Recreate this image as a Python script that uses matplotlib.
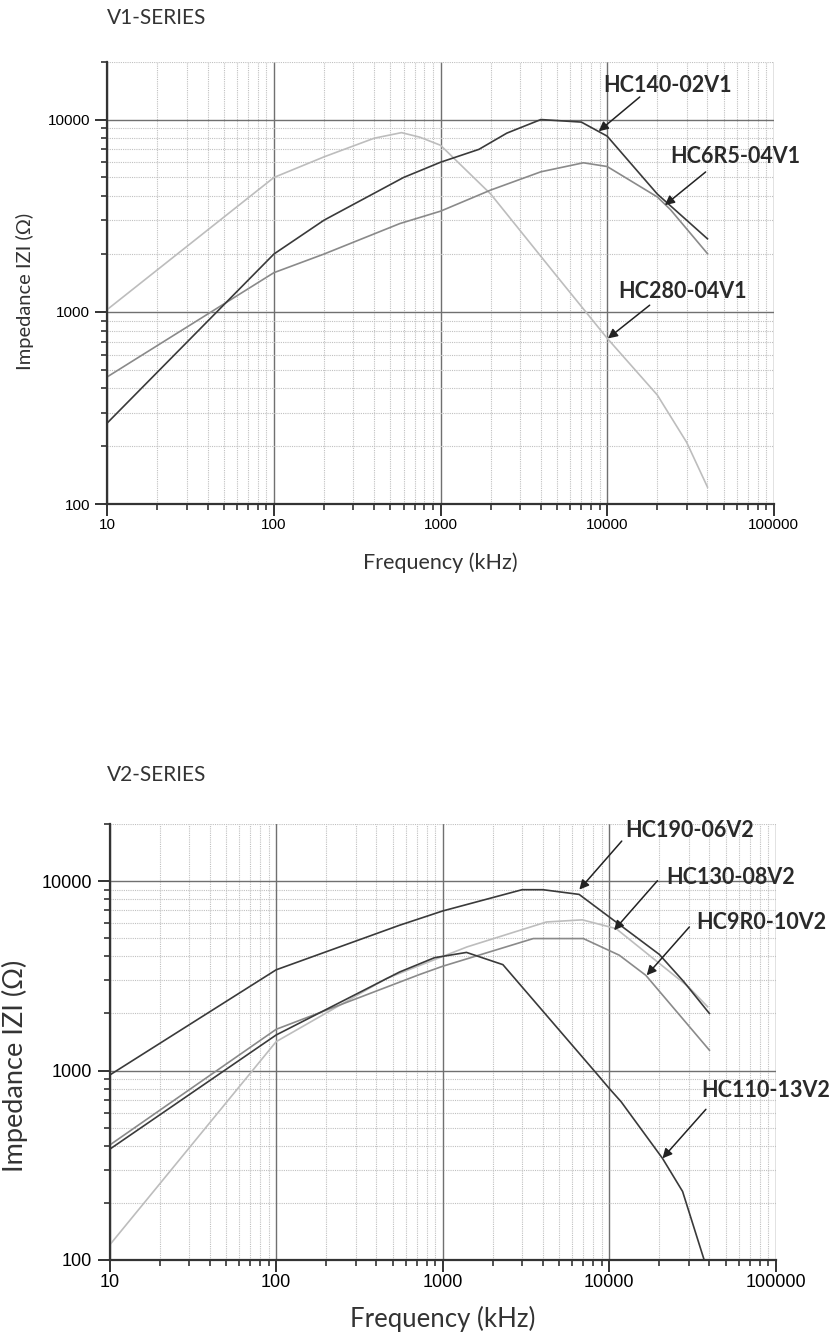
import numpy as np
import matplotlib
matplotlib.use("Agg")
import matplotlib.pyplot as plt
from matplotlib.ticker import LogLocator, NullFormatter

# V1-series curves (frequency kHz, impedance ohm)
hc140_f = [10, 100, 200, 600, 1000, 1700, 2500, 4000, 7000, 10000, 20000, 40000]
hc140_z = [265, 2000, 3000, 5000, 6000, 7000, 8500, 10000, 9700, 8200, 4100, 2400]
hc6r5_f = [10, 100, 200, 570, 1000, 2000, 4000, 7200, 10000, 20000, 24000, 40000]
hc6r5_z = [460, 1600, 2000, 2880, 3340, 4300, 5350, 5960, 5700, 3960, 3400, 2010]
hc280_f = [10, 100, 200, 400, 583, 750, 1000, 2000, 5000, 10000, 20000, 30000, 40000]
hc280_z = [1030, 5000, 6400, 8000, 8550, 8100, 7350, 4100, 1530, 730, 370, 210, 123]

# V2-series curves
hc190_f = [10, 100, 550, 1000, 3000, 4000, 6600, 20000, 28000, 40000]
hc190_z = [946, 3400, 5840, 6950, 9000, 9000, 8500, 4100, 2950, 2000]
hc130_f = [10, 100, 460, 1400, 4200, 6900, 11000, 30000, 39000]
hc130_z = [120, 1420, 3060, 4490, 6080, 6240, 5610, 2760, 2170]
hc9r0_f = [10, 100, 726, 1000, 3500, 7000, 11500, 16600, 40000]
hc9r0_z = [404, 1650, 3210, 3550, 4970, 4970, 4060, 3180, 1280]
hc110_f = [10, 100, 551, 894, 1390, 2300, 8730, 10000, 11800, 20900, 27600, 37200]
hc110_z = [384, 1540, 3310, 3940, 4200, 3620, 927, 805, 684, 344, 230, 100]

xticks = [10, 100, 1000, 10000, 100000]
xtick_labels = ["10", "100", "1000", "10000", "100000"]
yticks = [100, 1000, 10000]
ytick_labels = ["100", "1000", "10000"]

DARK = "#3a3a3a"
MID = "#8a8a8a"
LIGHT = "#bdbdbd"
LBL_FONT = "Lato"
TICK_FONT = "Liberation Sans"

fig = plt.figure(figsize=(8.32, 13.37), dpi=100)


def setup(ax, tick_size, xlab_size, ylab_size):
    ax.set_xscale("log")
    ax.set_yscale("log")
    ax.set_xlim(10, 100000)
    ax.set_ylim(100, 20000)
    ax.xaxis.set_minor_locator(LogLocator(base=10, subs=np.arange(2, 10)))
    ax.yaxis.set_minor_locator(LogLocator(base=10, subs=np.arange(2, 10)))
    ax.xaxis.set_minor_formatter(NullFormatter())
    ax.yaxis.set_minor_formatter(NullFormatter())
    ax.set_xticks(xticks, xtick_labels, fontfamily=TICK_FONT, fontsize=tick_size)
    ax.set_yticks(yticks, ytick_labels, fontfamily=TICK_FONT, fontsize=tick_size)
    ax.grid(which="major", color="#707070", lw=1.0, ls="-")
    ax.grid(which="minor", color="#c0c0c0", lw=0.8, ls=(0, (1, 1)))
    ax.set_axisbelow(True)
    for s in ["top", "right"]:
        ax.spines[s].set_visible(False)
    for s in ["left", "bottom"]:
        ax.spines[s].set_color("#333333")
        ax.spines[s].set_linewidth(1.6)
    ax.tick_params(which="major", direction="out", length=8.5, width=1.4, color="#333333")
    ax.tick_params(which="minor", direction="out", length=4.5, width=1.2, color="#333333")
    ax.tick_params(axis="x", which="major", pad=1.5)
    ax.tick_params(axis="y", which="major", pad=4)
    ax.set_xlabel("Frequency (kHz)", fontfamily=LBL_FONT, fontsize=xlab_size, color="#333333")
    ax.set_ylabel("Impedance IZI (\u03a9)", fontfamily=LBL_FONT, fontsize=ylab_size, color="#333333")


def label(ax, text, txy, tail, tip):
    ax.text(txy[0], txy[1], text, fontfamily=LBL_FONT, fontweight="bold", fontsize=15.5,
            color="#2a2a2a", va="center", ha="left", clip_on=False)
    ax.annotate("", xy=tip, xytext=tail,
                arrowprops=dict(arrowstyle="-|>", color="#222222", lw=1.1, mutation_scale=14,
                                shrinkA=0, shrinkB=0))


# top chart
ax1 = fig.add_axes([0.129, 0.6228, 0.801, 0.3311])
setup(ax1, 11, 15.5, 14.5)
ax1.plot(hc280_f, hc280_z, color=LIGHT, lw=1.2)
ax1.plot(hc6r5_f, hc6r5_z, color=MID, lw=1.2)
ax1.plot(hc140_f, hc140_z, color=DARK, lw=1.2)
label(ax1, "HC140-02V1", (9420, 15070), (15700, 13100), (8900, 8690))
label(ax1, "HC6R5-04V1", (24000, 6400), (39000, 5340), (22200, 3590))
label(ax1, "HC280-04V1", (11600, 1270), (18000, 1084), (10100, 728))
ax1.xaxis.set_label_coords(0.5, -0.108)
ax1.yaxis.set_label_coords(-0.11, 0.48)
fig.text(0.128, 1 - 17.5 / 1337, "V1-SERIES", fontfamily=LBL_FONT, fontsize=15,
         color="#333333", va="center", ha="left")

# bottom chart
ax2 = fig.add_axes([0.1318, 0.0576, 0.8005, 0.3261])
setup(ax2, 13, 18.5, 19.5)
ax2.plot(hc130_f, hc130_z, color=LIGHT, lw=1.2)
ax2.plot(hc9r0_f, hc9r0_z, color=MID, lw=1.2)
ax2.plot(hc110_f, hc110_z, color=DARK, lw=1.2)
ax2.plot(hc190_f, hc190_z, color=DARK, lw=1.2)
label(ax2, "HC190-06V2", (12500, 18500), (11900, 16250), (6620, 9010))
label(ax2, "HC130-08V2", (21900, 10500), (19500, 10040), (10700, 5500))
label(ax2, "HC9R0-10V2", (33200, 6010), (30300, 5720), (16800, 3180))
label(ax2, "HC110-13V2", (35600, 789), (38100, 624), (20900, 344))
ax2.xaxis.set_label_coords(0.5, -0.105)
ax2.yaxis.set_label_coords(-0.122, 0.445)
fig.text(0.128, 1 - 775 / 1337, "V2-SERIES", fontfamily=LBL_FONT, fontsize=15,
         color="#333333", va="center", ha="left")

fig.savefig("out.png", dpi=100)
